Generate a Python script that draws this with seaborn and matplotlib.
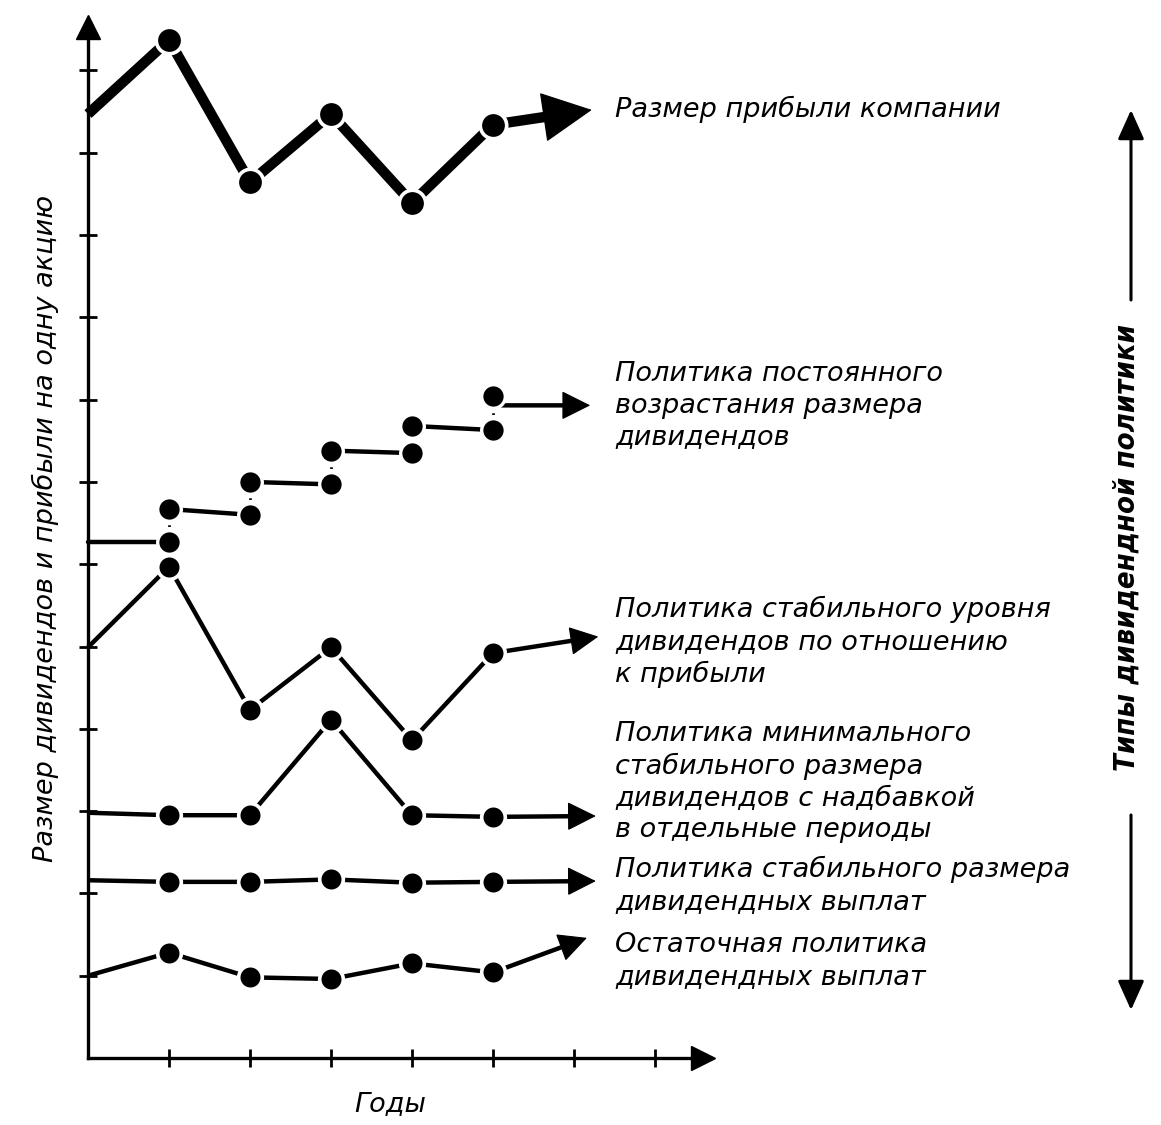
import matplotlib
matplotlib.use("Agg")
import matplotlib.pyplot as plt
import seaborn as sns

# ---- data: policy curves over the years (value units = y tick steps) ----
years = [0, 1, 2, 3, 4, 5]
profit = [11.47, 12.37, 10.64, 11.47, 10.39, 11.34]
growth_before = [6.27, 6.27, 6.60, 6.97, 7.35, 7.63]   # level held into year k
growth_after = [6.27, 6.67, 7.00, 7.38, 7.68, 8.04]    # level after raise in year k
stable_ratio = [4.99, 5.97, 4.23, 4.99, 3.86, 4.92]
min_extra = [2.98, 2.95, 2.95, 4.11, 2.95, 2.93]
stable_pay = [2.16, 2.14, 2.14, 2.17, 2.13, 2.14]
residual = [1.00, 1.28, 0.98, 0.96, 1.15, 1.04]

# outlook arrows: (start year, start value) -> (end year, end value)
outlook_start = [(5, 11.34), (5, 7.93), (5, 4.92), (5, 2.93), (5, 2.14), (5, 1.04)]
outlook_end = [(6.22, 11.52), (6.20, 7.93), (6.30, 5.12), (6.27, 2.94), (6.27, 2.15), (6.16, 1.46)]

labels = [
    "Размер прибыли компании",
    "Политика постоянного\nвозрастания размера\nдивидендов",
    "Политика стабильного уровня\nдивидендов по отношению\nк прибыли",
    "Политика минимального\nстабильного размера\nдивидендов с надбавкой\nв отдельные периоды",
    "Политика стабильного размера\nдивидендных выплат",
    "Остаточная политика\nдивидендных выплат",
]
label_top_px = [96, 361, 596, 721, 856, 932]

x_ticks = [1, 2, 3, 4, 5, 6, 7]
y_ticks = [1, 2, 3, 4, 5, 6, 7, 8, 9, 10, 11, 12]

sns.set_theme(style="white")
plt.rcParams["font.family"] = ["DejaVu Sans"]

W, H = 1161, 1125
fig = plt.figure(figsize=(W / 100, H / 100), dpi=100)
ax = fig.add_axes([0, 0, 1, 1])
ax.set_facecolor("white")

# origin at pixel (88, 1058); 81 px per year, 82.3 px per value step
ox, oy, sx, sy = 88.0, 1058.0, 81.0, 82.3
ax.set_xlim(-ox / sx, (W - ox) / sx)
ax.set_ylim(-(H - oy) / sy, oy / sy)

# axes with arrowheads
for s in ["top", "right"]:
    ax.spines[s].set_visible(False)
for s in ["left", "bottom"]:
    ax.spines[s].set_position(("data", 0))
    ax.spines[s].set_color("black")
    ax.spines[s].set_linewidth(2.4)
ax.spines["left"].set_bounds(0, 12.5)
ax.spines["bottom"].set_bounds(0, 7.6)
ax.set_xticks(x_ticks)
ax.set_yticks(y_ticks)
ax.tick_params(axis="both", direction="inout", length=13, width=2.0, colors="black",
               bottom=True, left=True, labelbottom=False, labelleft=False)
ax.plot(0, 12.53, marker="^", markersize=17, color="black", clip_on=False, zorder=5)
ax.plot(7.59, 0, marker=">", markersize=17, color="black", clip_on=False, zorder=5)


def draw_curve(values, lw, ms):
    sns.lineplot(x=years, y=values, ax=ax, color="black", linewidth=lw,
                 marker="o", markevery=list(range(1, len(years))),
                 markersize=ms, markerfacecolor="black",
                 markeredgecolor="white", markeredgewidth=2.6,
                 solid_joinstyle="miter", solid_capstyle="butt", zorder=3)


def draw_outlook(i, lw, head_px):
    """Shaft drawn with the line width, filled head drawn thin on top."""
    (x0, y0), (x1, y1) = outlook_start[i], outlook_end[i]
    # base of the head, a little back from the tip along the arrow
    dx, dy = (x1 - x0) * sx, (y1 - y0) * sy
    dist = (dx ** 2 + dy ** 2) ** 0.5
    f = max(0.0, 1 - (head_px * 0.8) / dist)
    base = (x0 + (x1 - x0) * f, y0 + (y1 - y0) * f)
    ax.annotate("", xy=base, xytext=(x0, y0),
                arrowprops=dict(arrowstyle="-", color="black", lw=lw,
                                shrinkA=0, shrinkB=0, capstyle="butt"),
                zorder=2)
    ax.annotate("", xy=(x1, y1), xytext=(x0, y0),
                arrowprops=dict(arrowstyle="-|>,head_length=1.0,head_width=0.5",
                                color="black", lw=0.8, mutation_scale=head_px * 0.72,
                                shrinkA=0, shrinkB=0, joinstyle="miter"),
                zorder=2)


# company profit (heavy line)
draw_outlook(0, 7.5, 47)
draw_curve(profit, 7.5, 19)

# constant growth of dividends: step pattern
for k in range(1, len(years)):
    sns.lineplot(x=[years[k - 1], years[k]], y=[growth_after[k - 1], growth_before[k]],
                 ax=ax, color="black", linewidth=3.2, zorder=3)
    ax.plot([years[k], years[k]], [growth_before[k], growth_after[k]],
            color="black", linewidth=2.0, linestyle=(0, (0.6, 2.2)), zorder=2.5)
draw_outlook(1, 3.2, 26)
step_x = years[1:] + years[1:]
step_y = growth_before[1:] + growth_after[1:]
sns.scatterplot(x=step_x, y=step_y, ax=ax, color="black", s=17 ** 2,
                edgecolor="white", linewidth=2.4, zorder=4)

for i, series in enumerate([stable_ratio, min_extra, stable_pay, residual], start=2):
    draw_outlook(i, 3.2, 26)
    draw_curve(series, 3.2, 17)

# labels of the policies
for text, top in zip(labels, label_top_px):
    fig.text(615 / W, 1 - top / H, text, ha="left", va="top", fontsize=19.5,
             style="italic", color="black", linespacing=1.28)

# axis titles
fig.text(45 / W, 1 - 528 / H, "Размер дивидендов и прибыли на одну акцию",
         rotation=90, ha="center", va="center", fontsize=19.5, style="italic", color="black")
fig.text(390 / W, 1 - 1104 / H, "Годы", ha="center", va="center",
         fontsize=19.5, style="italic", color="black")

# side caption with double arrow
fig.text(1127 / W, 1 - 548 / H, "Типы дивидендной политики", rotation=90,
         ha="center", va="center", fontsize=21, fontweight="bold", style="italic",
         fontstretch="condensed", color="black")
for y_from, y_to in [(300, 110), (815, 1010)]:
    ax.annotate("", xy=(1131, H - y_to), xytext=(1131, H - y_from),
                xycoords="figure pixels", textcoords="figure pixels",
                arrowprops=dict(arrowstyle="-|>,head_length=1.0,head_width=0.45",
                                color="black", lw=2.2, mutation_scale=18,
                                shrinkA=0, shrinkB=0))

fig.savefig("out.png", dpi=100, facecolor="white")
